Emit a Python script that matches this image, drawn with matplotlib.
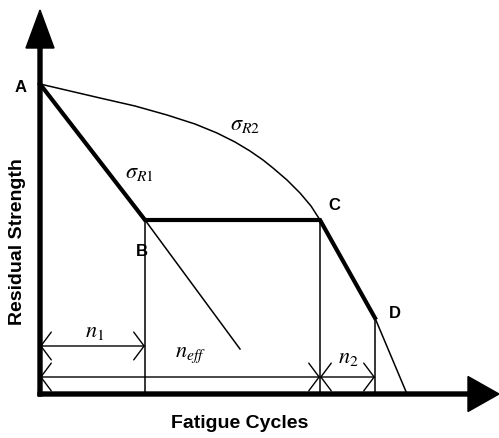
import matplotlib
matplotlib.use('Agg')
import matplotlib.pyplot as plt

# key points of the residual strength diagram (x = cycles, y = strength), arbitrary units
pt_names = ['A', 'B', 'C', 'D']
pt_x = [0, 105, 280, 335]
pt_y = [310, 174, 174, 76]

# sigma_R1 line continued past B
r1_end_x = 200
r1_end_y = 45

# sigma_R2 curve from A to C, and its tail from D to failure
r2_x = [0, 30, 60, 95, 127, 155, 177, 195, 210, 223, 233, 247, 260, 271, 280]
r2_y = [310, 303, 296, 288, 279, 270, 261, 252, 243, 234, 226, 214, 201, 188, 174]
tail_x = [335, 367]
tail_y = [76, 0]

# dimension lines: (label, start, end, height)
dims = [
    (r'$n_1$', 0, 105, 48),
    (r'$n_{eff}$', 0, 280, 17),
    (r'$n_2$', 280, 335, 17),
]

plt.rcParams['font.family'] = ['Liberation Sans', 'DejaVu Sans']
plt.rcParams['mathtext.fontset'] = 'stix'

fig = plt.figure(figsize=(4.99, 4.38), dpi=100)
ax = fig.add_axes([0, 0, 1, 1])
ax.set_xlim(-40, 459)
ax.set_ylim(-44, 394)
ax.axis('off')

# axes with arrow heads
ax.arrow(0, -2, 0, 386, width=4, head_width=28, head_length=38,
         length_includes_head=True, color='black', zorder=3)
ax.arrow(-2, 0, 461, 0, width=4, head_width=35, head_length=31,
         length_includes_head=True, color='black', zorder=3)

# sigma_R2 curve (thin) and its tail
ax.plot(r2_x, r2_y, color='black', lw=1.1, solid_capstyle='round',
        solid_joinstyle='round')
ax.plot(tail_x, tail_y, color='black', lw=1.1)

# sigma_R1 continued past B (thin)
ax.plot([pt_x[1], r1_end_x], [pt_y[1], r1_end_y], color='black', lw=1.1)

# thick path A-B-C-D
ax.plot(pt_x, pt_y, color='black', lw=3, solid_joinstyle='miter')

# vertical drop lines at B, C, D
for x, y in zip(pt_x[1:], pt_y[1:]):
    ax.plot([x, x], [0, y], color='black', lw=1.1)

# dimension arrows
for label, x0, x1, h in dims:
    ax.annotate('', xy=(x1, h), xytext=(x0, h),
                arrowprops=dict(arrowstyle='<->,head_length=0.75,head_width=1.0',
                                lw=1, color='black', shrinkA=0, shrinkB=0,
                                mutation_scale=10))

# point letters
letter_pos = [(-19, 306), (102, 143), (294, 189), (355, 81)]
for name, (x, y) in zip(pt_names, letter_pos):
    ax.text(x, y, name, fontsize=12, fontweight='bold', ha='center', va='center')

# curve labels
ax.text(85, 216, r'$\sigma_{R1}$', fontsize=16, ha='left', va='baseline')
ax.text(190, 264, r'$\sigma_{R2}$', fontsize=16, ha='left', va='baseline')

# dimension labels
dim_pos = [(45, 57), (135, 37), (298, 31)]
for (label, x0, x1, h), (x, y) in zip(dims, dim_pos):
    ax.text(x, y, label, fontsize=16, ha='left', va='baseline')

# axis titles
ax.text(200, -29, 'Fatigue Cycles', fontsize=14, fontweight='bold',
        ha='center', va='center')
ax.text(-22, 152, 'Residual Strength', fontsize=14, fontweight='bold',
        ha='center', va='center', rotation=90)

fig.savefig('out.png', dpi=100)
